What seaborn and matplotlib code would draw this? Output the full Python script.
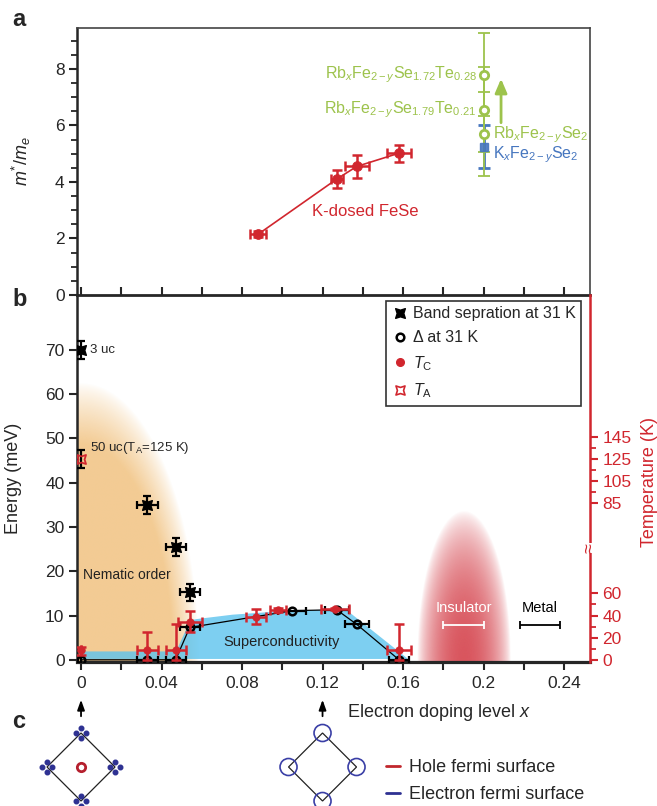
import numpy as np
import pandas as pd
import matplotlib
matplotlib.use("Agg")
import matplotlib.pyplot as plt
import seaborn as sns
from matplotlib.path import Path
from matplotlib.lines import Line2D
from matplotlib.patches import Circle, Polygon
import matplotlib.transforms as mtransforms

sns.set_theme(style="ticks")
plt.rcParams["font.family"] = ["Liberation Sans", "DejaVu Sans"]
plt.rcParams["mathtext.fontset"] = "custom"
plt.rcParams["mathtext.rm"] = "Liberation Sans"
plt.rcParams["mathtext.it"] = "Liberation Sans:italic"
plt.rcParams["mathtext.bf"] = "Liberation Sans:bold"

# ---------------- data: panel a ----------------
kfese_x = [0.088, 0.127, 0.137, 0.158]
kfese_m = [2.15, 4.10, 4.55, 5.02]
kfese_xerr = [0.004, 0.003, 0.006, 0.006]
kfese_merr = [0.10, 0.32, 0.40, 0.30]

rb_x = [0.2, 0.2, 0.2]
rb_m = [7.80, 6.56, 5.71]
rb_merr = [1.47, 1.50, 1.49]
rb_labels = [r"Rb$_{x}$Fe$_{2-y}$Se$_{1.72}$Te$_{0.28}$",
             r"Rb$_{x}$Fe$_{2-y}$Se$_{1.79}$Te$_{0.21}$",
             r"Rb$_{x}$Fe$_{2-y}$Se$_{2}$"]
k_x = [0.2]
k_m = [5.25]
k_merr = [0.77]
k_label = r"K$_{x}$Fe$_{2-y}$Se$_{2}$"

# ---------------- data: panel b ----------------
band_x = [0.0, 0.033, 0.047, 0.054]
band_E = [70.0, 35.0, 25.4, 15.2]
band_xerr = [0.0, 0.005, 0.005, 0.005]
band_Eerr = [2.0, 2.0, 2.0, 2.0]

gap_x = [0.0, 0.033, 0.047, 0.054, 0.105, 0.127, 0.137, 0.158]
gap_E = [0.0, 0.0, 0.0, 7.3, 11.1, 11.3, 8.0, 0.0]
gap_xerr = [0.0, 0.005, 0.005, 0.005, 0.007, 0.006, 0.006, 0.005]

tc_x = [0.0, 0.033, 0.047, 0.054, 0.087, 0.098, 0.126, 0.158]
tc_T = [9.0, 9.0, 9.0, 34.5, 39.0, 45.0, 46.0, 9.0]          # K
tc_T_lo = [5.0, 9.0, 9.0, 9.5, 7.0, 2.0, 1.2, 9.0]
tc_T_hi = [3.0, 16.0, 23.0, 9.5, 7.0, 2.0, 1.2, 23.0]
tc_xerr = [0.0, 0.005, 0.005, 0.006, 0.005, 0.004, 0.007, 0.006]

ta_x = [0.0]
ta_T = [125.0]
ta_Eerr = [2.0]

sc_x = [0.0, 0.047, 0.054, 0.057, 0.075, 0.100, 0.131, 0.162]
sc_top = [2.0, 2.0, 9.0, 9.3, 10.3, 11.1, 11.6, 0.4]

phase_names = ["Insulator", "Metal"]
phase_x = [0.19, 0.228]
phase_half = [0.010, 0.010]

temp_ticks_low = [0, 20, 40, 60]
temp_minor_low = [10, 30, 50]
temp_ticks_high = [85, 105, 125, 145]
temp_minor_high = [95, 115, 135]
T_SCALE = 4.0          # K per meV
T_BREAK_T = 85.0
T_BREAK_E = 35.4

# ---------------- data: panel c ----------------
bz_x = [0.0, 0.12]


def t2e(T):
    T = np.asarray(T, dtype=float)
    return np.where(T <= 70, T / T_SCALE, (T - T_BREAK_T) / T_SCALE + T_BREAK_E)


RED = "#D1262E"
GREEN = "#9DC34C"
BLUE = "#4676BF"
NAVY = "#2E3192"
SKY = (92 / 255, 195 / 255, 238 / 255)

W, H = 657, 806
fig = plt.figure(figsize=(W / 100, H / 100), dpi=100)
XL = (-0.002, 0.2529)
pxu = 513 / (XL[1] - XL[0])

ax_a = fig.add_axes([77 / W, (H - 295) / H, 513 / W, 267 / H])
ax_b = fig.add_axes([77 / W, (H - 662) / H, 513 / W, 367 / H])
ax_c = fig.add_axes([77 / W, 0, 513 / W, 116 / H])

# ================= panel a =================
ax_a.errorbar(kfese_x, kfese_m, xerr=kfese_xerr, yerr=kfese_merr, fmt="none",
              ecolor=RED, elinewidth=1.8, capsize=3.5, capthick=1.8, zorder=3)
sns.lineplot(x=kfese_x, y=kfese_m, ax=ax_a, color=RED, lw=1.2,
             estimator=None, sort=False, zorder=2)
sns.scatterplot(x=kfese_x, y=kfese_m, ax=ax_a, color=RED, edgecolor=RED,
                s=50, zorder=4, legend=False)
ax_a.errorbar(rb_x, rb_m, yerr=rb_merr, fmt="none", ecolor=GREEN,
              elinewidth=1.3, capsize=4, capthick=1.3, zorder=3)
ax_a.errorbar(k_x, k_m, yerr=k_merr, fmt="none", ecolor=BLUE,
              elinewidth=2.0, capsize=4, capthick=2.0, zorder=2.5)
ax_a.plot(k_x, k_m, ls="none", marker="s", ms=6, mfc=BLUE, mec=BLUE,
          alpha=0.9, zorder=3.5)
ax_a.plot(rb_x, rb_m, ls="none", marker="o", ms=6, mfc="white", mec=GREEN,
          mew=2, zorder=4)
ax_a.annotate("", xy=(0.2087, 7.75), xytext=(0.2087, 6.0),
              arrowprops=dict(arrowstyle="-|>,head_width=0.3,head_length=0.7",
                              color=GREEN, lw=2))
for lab, yv in zip(rb_labels[:2], rb_m[:2]):
    ax_a.text(0.1965, yv, lab, color=GREEN, fontsize=11.5, ha="right", va="center")
ax_a.text(0.2045, rb_m[2] - 0.03, rb_labels[2], color=GREEN, fontsize=11.5,
          ha="left", va="center")
ax_a.text(0.2045, k_m[0] - 0.3, k_label, color=BLUE, fontsize=11.5,
          ha="left", va="center")
ax_a.text(0.141, 2.95, "K-dosed FeSe", color=RED, fontsize=12, ha="center", va="center")

ax_a.set_xlim(*XL)
ax_a.set_ylim(0, 9.45)
ax_a.set_yticks([0, 2, 4, 6, 8])
ax_a.set_yticks(np.arange(0, 9.01, 0.5), minor=True)
ax_a.tick_params(axis="y", which="major", length=6, width=1.5, labelsize=12.5,
                 direction="out", pad=3)
ax_a.tick_params(axis="y", which="minor", length=4, width=1.3, direction="out")
ax_a.tick_params(axis="x", which="both", bottom=False, labelbottom=False)
ax_a.set_ylabel(r"$m^{*}/m_{e}$", fontsize=13)
ax_a.yaxis.set_label_coords(-0.085, 0.5)
for s in ["top", "right"]:
    ax_a.spines[s].set_color("#444444")
    ax_a.spines[s].set_linewidth(1.2)
ax_a.spines["left"].set_linewidth(1.8)
ax_a.spines["bottom"].set_visible(False)

# ================= panel b =================
YL = (-0.5, 82.4)
# nematic gradient
nx = np.linspace(-0.002, 0.064, 300)
ny = np.linspace(-0.5, 64, 400)
NX, NY = np.meshgrid(nx, ny)
r = np.sqrt((NX / 0.0585) ** 2 + (NY / 62.5) ** 2)
alpha = 0.62 * np.clip((1 - r) / 0.22, 0, 1) ** 0.8
img = np.zeros(NX.shape + (4,))
img[..., 0] = 236 / 255
img[..., 1] = 172 / 255
img[..., 2] = 82 / 255
img[..., 3] = alpha
ax_b.imshow(img, extent=[nx[0], nx[-1], ny[0], ny[-1]], origin="lower",
            aspect="auto", zorder=1, interpolation="bilinear")
# insulator gradient
ix = np.linspace(0.165, 0.216, 200)
iy = np.linspace(-0.5, 35, 300)
IX, IY = np.meshgrid(ix, iy)
ri = np.sqrt(((IX - 0.1903) / 0.0232) ** 2 + (IY / 33.5) ** 2)
ai = 0.88 * np.clip(1 - ri ** 2, 0, 1) ** 0.75
img2 = np.zeros(IX.shape + (4,))
img2[..., 0] = 212 / 255
img2[..., 1] = 62 / 255
img2[..., 2] = 72 / 255
img2[..., 3] = ai
ax_b.imshow(img2, extent=[ix[0], ix[-1], iy[0], iy[-1]], origin="lower",
            aspect="auto", zorder=1, interpolation="bilinear")

# superconductivity dome
ax_b.fill_between(sc_x, 0.3, sc_top, color=SKY, alpha=0.8, lw=0, zorder=2)

# gap line
sns.lineplot(x=gap_x, y=gap_E, ax=ax_b, color="black", lw=0.9,
             estimator=None, sort=False, zorder=3)

k_in = 0.68
bowtie = Path([(-1, -1), (0, -k_in), (1, -1), (k_in, 0), (1, 1), (0, k_in),
               (-1, 1), (-k_in, 0), (-1, -1)],
              [Path.MOVETO] + [Path.LINETO] * 7 + [Path.CLOSEPOLY])

# band separation
ax_b.errorbar(band_x, band_E, xerr=band_xerr, yerr=band_Eerr, fmt="none",
              ecolor="black", elinewidth=1.6, capsize=3, capthick=1.6, zorder=4)
ax_b.plot(band_x, band_E, ls="none", marker=bowtie, ms=7, color="black", zorder=5)

# gap points
ax_b.errorbar(gap_x, gap_E, xerr=gap_xerr, fmt="none", ecolor="black",
              elinewidth=1.6, capsize=3, capthick=1.6, zorder=4)
ax_b.plot(gap_x, gap_E, ls="none", marker="o", ms=5.5, mfc="none", mec="black",
          mew=1.8, zorder=5)

# Tc points
tc_E = t2e(tc_T)
ax_b.errorbar(tc_x, tc_E, xerr=tc_xerr,
              yerr=[np.array(tc_T_lo) / T_SCALE, np.array(tc_T_hi) / T_SCALE],
              fmt="none", ecolor=RED, elinewidth=1.8, capsize=3.5, capthick=1.8,
              zorder=5.5)
sns.scatterplot(x=tc_x, y=tc_E, ax=ax_b, color=RED, edgecolor=RED, s=30,
                zorder=6, legend=False)

# TA point
ta_E = t2e(ta_T)
ax_b.errorbar(ta_x, ta_E, yerr=ta_Eerr, fmt="none", ecolor="black",
              elinewidth=1.6, capsize=3, capthick=1.6, zorder=4)
ax_b.plot(ta_x, ta_E, ls="none", marker=bowtie, ms=6.5, mfc="none", mec=RED,
          mew=1.3, zorder=5)

# phase labels
for name, px, ph in zip(phase_names, phase_x, phase_half):
    col = "white" if name == "Insulator" else "black"
    ax_b.errorbar([px], [7.9], xerr=[ph], fmt="none", ecolor=col, elinewidth=1.3,
                  capsize=3, capthick=1.3, zorder=4)
    ax_b.text(px, 11.6, name, color=col, fontsize=10.5, ha="center", va="center",
              zorder=6)

ax_b.text(0.0045, 70, "3 uc", fontsize=9.5, ha="left", va="center")
ax_b.text(0.0045, 47.8, r"50 uc(T$_{\mathrm{A}}$=125 K)", fontsize=9.5,
          ha="left", va="center")
ax_b.text(0.001, 19.2, "Nematic order", fontsize=10, ha="left", va="center",
          color="#222222", zorder=6)
ax_b.text(0.0995, 4.0, "Superconductivity", fontsize=10.5, ha="center",
          va="center", color="#222222", zorder=6)

ax_b.set_xlim(*XL)
ax_b.set_ylim(*YL)
ax_b.set_xticks([0, 0.04, 0.08, 0.12, 0.16, 0.2, 0.24])
ax_b.set_xticklabels(["0", "0.04", "0.08", "0.12", "0.16", "0.2", "0.24"])
ax_b.set_xticks(np.arange(0, 0.2501, 0.02), minor=True)
ax_b.set_yticks(np.arange(0, 71, 10))
ax_b.tick_params(axis="x", which="both", direction="out", top=True, length=6,
                 width=1.5, labelsize=12.5, pad=4)
ax_b.tick_params(axis="y", which="major", direction="out", length=6, width=1.5,
                 labelsize=12.5, pad=3)
ax_b.set_ylabel("Energy (meV)", fontsize=13)
ax_b.yaxis.set_label_coords(-0.107, 0.5)
ax_b.text(0.526, -0.137, r"Electron doping level $x$", transform=ax_b.transAxes,
          fontsize=13, ha="left", va="center")
ax_b.spines["left"].set_linewidth(1.8)
ax_b.spines["bottom"].set_linewidth(2.3)
ax_b.spines["top"].set_linewidth(2.0)
ax_b.spines["right"].set_visible(False)

# legend
h_band = Line2D([], [], ls="none", marker=bowtie, ms=7, color="black")
h_gap = Line2D([], [], ls="none", marker="o", ms=5.5, mfc="none", mec="black", mew=1.8)
h_tc = Line2D([], [], ls="none", marker="o", ms=5.5, color=RED)
h_ta = Line2D([], [], ls="none", marker=bowtie, ms=6.5, mfc="none", mec=RED, mew=1.2)
leg = ax_b.legend([h_band, h_gap, h_tc, h_ta],
                  ["Band sepration at 31 K", "\u0394 at 31 K",
                   r"$T_{\mathrm{C}}$", r"$T_{\mathrm{A}}$"],
                  loc="upper right", bbox_to_anchor=(0.983, 0.984),
                  fontsize=11.5, frameon=True, fancybox=False,
                  handlelength=1.0, handletextpad=0.3, labelspacing=0.55,
                  borderpad=0.35, borderaxespad=0)
leg.get_frame().set_edgecolor("black")
leg.get_frame().set_linewidth(1.2)
leg.set_zorder(10)

# right temperature axis
ax_r = ax_b.twinx()
ax_r.set_ylim(*YL)
ticksT = temp_ticks_low + temp_ticks_high
ax_r.set_yticks(t2e(ticksT))
ax_r.set_yticklabels([str(t) for t in ticksT])
ax_r.set_yticks(t2e(temp_minor_low + temp_minor_high), minor=True)
ax_r.tick_params(axis="y", which="major", colors=RED, length=6, width=1.5,
                 labelsize=12.5, direction="out", pad=3)
ax_r.tick_params(axis="y", which="minor", colors=RED, length=4, width=1.3,
                 direction="out")
for s in ["left", "top", "bottom"]:
    ax_r.spines[s].set_visible(False)
ax_r.spines["right"].set_color(RED)
ax_r.spines["right"].set_linewidth(1.8)
ax_r.set_ylabel("Temperature (K)", color=RED, fontsize=13)
ax_r.yaxis.set_label_coords(1.099, 0.49)
brk_tr = mtransforms.blended_transform_factory(ax_r.transAxes, ax_r.transData)
ax_r.text(1.0, 25.3, "\u2248", transform=brk_tr, rotation=90, color=RED,
          fontsize=13, ha="center", va="center", clip_on=False,
          bbox=dict(facecolor="white", edgecolor="none", pad=0.0))

# ================= panel c =================
ax_c.set_xlim(*XL)
ax_c.set_ylim(0, 116 / pxu)
ax_c.axis("off")
yc = 39 / pxu
hd = 34 / pxu
off = 5 / pxu
for i, bx in enumerate(bz_x):
    verts = [(bx, yc + hd), (bx + hd, yc), (bx, yc - hd), (bx - hd, yc)]
    ax_c.add_patch(Polygon(verts, closed=True, fill=False, ec="#222222",
                           lw=0.9, clip_on=False))
    for vx, vy in verts:
        if i == 0:
            ax_c.plot([vx, vx, vx - off, vx + off], [vy + off, vy - off, vy, vy],
                      ls="none", marker="o", ms=3.3, color=NAVY, clip_on=False)
        else:
            ax_c.add_patch(Circle((vx, vy), 8.5 / pxu, fill=False, ec="#3A3FA6",
                                  lw=1.2, clip_on=False))
    if i == 0:
        ax_c.plot([bx], [yc], ls="none", marker="o", ms=6, mfc="none",
                  mec="#B5202E", mew=2, clip_on=False)
    ax_c.annotate("", xy=(bx, (806 - 697) / pxu), xytext=(bx, (806 - 719) / pxu),
                  arrowprops=dict(arrowstyle="-|>,head_width=0.18,head_length=0.5",
                                  color="black", lw=1.3), annotation_clip=False)

fig.legend([Line2D([], [], color="#C1272D", lw=2), Line2D([], [], color=NAVY, lw=2)],
           ["Hole fermi surface", "Electron fermi surface"],
           loc="center left", bbox_to_anchor=(386 / W, (H - 781) / H),
           frameon=False, fontsize=13, handlelength=0.8, handletextpad=0.45,
           labelspacing=0.55, borderpad=0, borderaxespad=0)

fig.text(12 / W, 1 - 20 / H, "a", fontsize=17, fontweight="bold", va="center")
fig.text(12 / W, 1 - 300 / H, "b", fontsize=17, fontweight="bold", va="center")
fig.text(12 / W, 1 - 722 / H, "c", fontsize=17, fontweight="bold", va="center")

fig.savefig("out.png", dpi=100)
